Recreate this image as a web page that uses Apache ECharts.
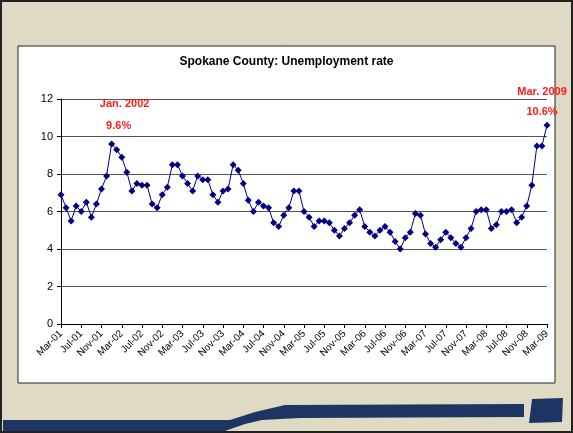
<!DOCTYPE html>
<html><head><meta charset="utf-8">
<script src="https://cdn.jsdelivr.net/npm/echarts@6/dist/echarts.min.js"></script>
<style>html,body{margin:0;padding:0;background:#DFDAC4;}#c{width:573px;height:433px;}</style>
</head><body><div id="c"></div>
<script>
// Monthly labels Mar-01 .. Mar-09
const monthNames = ['Jan','Feb','Mar','Apr','May','Jun','Jul','Aug','Sep','Oct','Nov','Dec'];
const categories = [];
for (let y = 2001, m = 2; !(y === 2009 && m === 3); ) {
  categories.push(monthNames[m] + '-' + String(y % 100).padStart(2, '0'));
  m++; if (m === 12) { m = 0; y++; }
}
const rate2001_2003 = [6.9,6.2,5.5,6.3,6.0,6.5,5.7,6.4,7.2,7.9,9.6,9.3,8.9,8.1,7.1,7.5,7.4,7.4,6.4,6.2,6.9,7.3,8.5,8.5,7.9,7.5,7.1,7.9,7.7,7.7];
const rate2003_2006 = [6.9,6.5,7.1,7.2,8.5,8.2,7.5,6.6,6.0,6.5,6.3,6.2,5.4,5.2,5.8,6.2,7.1,7.1,6.0,5.7,5.2,5.5,5.5,5.4,5.0,4.7,5.1,5.4,5.8];
const rate2006_2009 = [6.1,5.2,4.9,4.7,5.0,5.2,4.9,4.4,4.0,4.6,4.9,5.9,5.8,4.8,4.3,4.1,4.5,4.9,4.6,4.3,4.1,4.6,5.1,6.0,6.1,6.1,5.1,5.3,6.0,6.0,6.1,5.4,5.7,6.3,7.4,9.5,9.5,10.6];
const values = rate2001_2003.concat(rate2003_2006, rate2006_2009);
const yTicks = [0,2,4,6,8,10,12];
const titleText = 'Spokane County: Unemployment rate';
const annotations = [
  {cat:'Jan-02', val:9.6, lines:['Jan. 2002','9.6%']},
  {cat:'Mar-09', val:10.6, lines:['Mar. 2009','10.6%']}
];

const chart = echarts.init(document.getElementById('c'));
const red = '#FF1A1A';
const annOffsets = [[[13,-40],[7,-18]],[[-5,-33],[-5,-13]]];
const mpData = [];
annotations.forEach((a, i) => {
  a.lines.forEach((t, j) => {
    mpData.push({coord:[a.cat, a.val], symbolSize:0,
      label:{show:true, position:'inside', formatter:t, offset:annOffsets[i][j],
        color:red, fontWeight:'bold', fontSize:11, fontFamily:'Liberation Sans'}});
  });
});

chart.setOption({
  animation:false,
  backgroundColor:'#DFDAC4',
  graphic:[
    {type:'rect', shape:{x:1,y:1,width:571,height:431}, style:{fill:'none', stroke:'#222', lineWidth:2}, z:-10},
    {type:'polygon', shape:{points:[[3,420],[230,420],[255,412],[285,405],[524,404],[524,417],[300,418],[262,420],[245,424],[225,431],[3,431]]}, style:{fill:'#1E3563'}, z:-9},
    {type:'polygon', shape:{points:[[532,399],[563,398],[562,422],[529,423]]}, style:{fill:'#1E3563'}, z:-9},
    {type:'rect', shape:{x:18,y:46,width:537,height:337}, style:{fill:'#FFFFFF', stroke:'#222', lineWidth:1}, z:-8},
    {type:'text', left:'center', top:56, style:{text:titleText, font:'bold 12px "Liberation Sans"', fill:'#000'}}
  ],
  grid:{left:61, right:26, top:99, bottom:109},
  xAxis:{
    type:'category', data:categories, boundaryGap:false,
    axisLine:{lineStyle:{color:'#000', width:1}},
    axisTick:{show:true, interval:3, length:4, lineStyle:{color:'#000'}},
    axisLabel:{interval:3, rotate:45, fontSize:10, color:'#000', fontFamily:'Liberation Sans', margin:8},
    splitLine:{show:false}
  },
  yAxis:{
    type:'value', min:yTicks[0], max:yTicks[yTicks.length-1], interval:2,
    axisLine:{show:true, lineStyle:{color:'#000'}},
    axisTick:{show:true, length:4, lineStyle:{color:'#000'}},
    axisLabel:{fontSize:11, color:'#000', fontFamily:'Liberation Sans', margin:8},
    splitLine:{show:true, lineStyle:{color:'#555', width:1}}
  },
  series:[{
    type:'line', data:values,
    symbol:'diamond', symbolSize:7, showAllSymbol:true,
    itemStyle:{color:'#000080'},
    lineStyle:{color:'#000080', width:1},
    markPoint:{symbol:'circle', data:mpData, silent:true}
  }]
});
</script></body></html>
